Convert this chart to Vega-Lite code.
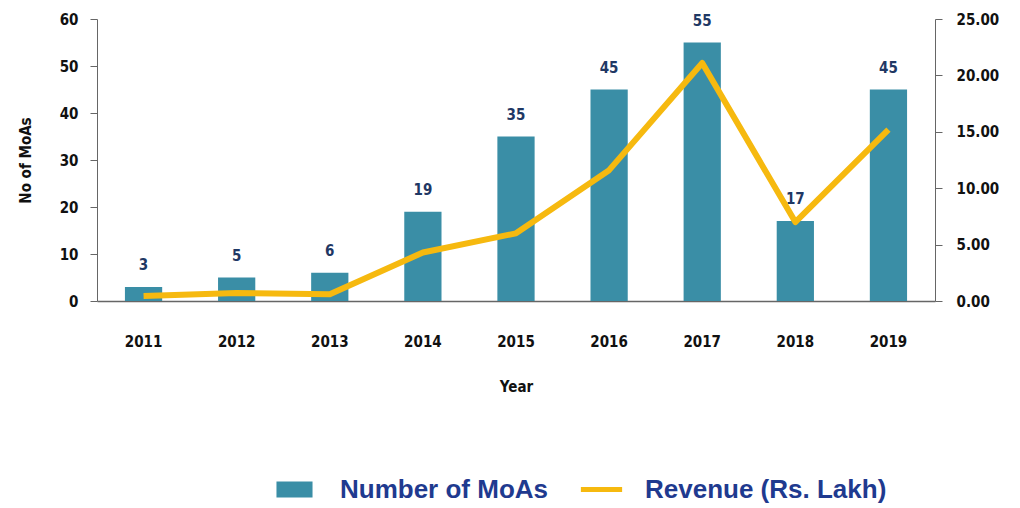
{
  "$schema": "https://vega.github.io/schema/vega-lite/v6.json",
  "autosize": {"type": "none"},
  "padding": {"left": 97, "top": 19, "right": 85, "bottom": 207},
  "width": 838,
  "height": 282,
  "background": "white",
  "config": {
    "view": {"stroke": null},
    "font": "DejaVu Sans Condensed"
  },
  "data": {
    "values": [
      {"year": "2011", "moas": 3, "revenue": 0.45},
      {"year": "2012", "moas": 5, "revenue": 0.7},
      {"year": "2013", "moas": 6, "revenue": 0.6},
      {"year": "2014", "moas": 19, "revenue": 4.3},
      {"year": "2015", "moas": 35, "revenue": 6.0},
      {"year": "2016", "moas": 45, "revenue": 11.6},
      {"year": "2017", "moas": 55, "revenue": 21.1},
      {"year": "2018", "moas": 17, "revenue": 7.0},
      {"year": "2019", "moas": 45, "revenue": 15.2}
    ]
  },
  "encoding": {
    "x": {
      "field": "year", "type": "ordinal", "title": "Year",
      "scale": {"paddingInner": 0.6, "paddingOuter": 0.3},
      "axis": {
        "labelAngle": 0, "labelFont": "DejaVu Sans Condensed", "labelFontWeight": "bold", "labelFontSize": 15,
        "labelColor": "#111", "labelPadding": 33, "ticks": false, "domainColor": "#666", "domainWidth": 1.5,
        "titleFont": "DejaVu Sans Condensed", "titleFontWeight": "bold", "titleFontSize": 15, "titleColor": "#111", "titlePadding": 30
      }
    }
  },
  "layer": [
    {
      "encoding": {
        "y": {
          "field": "moas", "type": "quantitative", "title": "No of MoAs",
          "scale": {"domain": [0, 60]},
          "axis": {
            "values": [0, 10, 20, 30, 40, 50, 60], "grid": false, "tickSize": 7, "tickColor": "#666", "domainColor": "#666",
            "labelFont": "DejaVu Sans Condensed", "labelFontWeight": "bold", "labelFontSize": 15, "labelColor": "#111", "labelPadding": 12,
            "titleFont": "DejaVu Sans Condensed", "titleFontWeight": "bold", "titleFontSize": 15, "titleColor": "#111", "titlePadding": 26
          }
        }
      },
      "layer": [
        {
          "mark": {"type": "bar", "color": "#3a8ea6"},
          "encoding": {
            "fill": {
              "datum": "Number of MoAs", "type": "nominal",
              "scale": {"range": ["#3a8ea6"]},
              "legend": {
                "orient": "none", "legendX": 179, "legendY": 452, "title": null, "labelLimit": 0,
                "symbolType": "M-1,-0.45H1V0.45H-1Z", "symbolSize": 1300, "symbolStrokeWidth": 0,
                "labelFont": "Liberation Sans", "labelFontWeight": "bold", "labelFontSize": 26, "labelColor": "#1f3a8f", "labelOffset": 27
              }
            }
          }
        },
        {
          "mark": {"type": "text", "dy": -22, "font": "DejaVu Sans Condensed", "fontWeight": "bold", "fontSize": 15, "color": "#1f3864"},
          "encoding": {
            "text": {"field": "moas", "type": "quantitative"}
          }
        }
      ]
    },
    {
      "mark": {"type": "line", "color": "#f6b90f", "strokeWidth": 6, "strokeJoin": "round"},
      "encoding": {
        "y": {
          "field": "revenue", "type": "quantitative", "title": null,
          "scale": {"domain": [0, 25]},
          "axis": {
            "orient": "right", "values": [0, 5, 10, 15, 20, 25], "format": ".2f", "grid": false, "tickSize": 7, "tickColor": "#666", "domainColor": "#666",
            "labelFont": "DejaVu Sans Condensed", "labelFontWeight": "bold", "labelFontSize": 15, "labelColor": "#111", "labelPadding": 14
          }
        },
        "stroke": {
          "datum": "Revenue (Rs. Lakh)", "type": "nominal",
          "scale": {"range": ["#f6b90f"]},
          "legend": {
            "orient": "none", "legendX": 481, "legendY": 447, "title": null, "labelLimit": 0,
            "symbolType": "stroke", "symbolSize": 1700, "symbolStrokeWidth": 5,
            "labelFont": "Liberation Sans", "labelFontWeight": "bold", "labelFontSize": 26, "labelColor": "#1f3a8f", "labelOffset": 20
          }
        }
      }
    }
  ],
  "resolve": {"scale": {"y": "independent", "fill": "independent", "stroke": "independent"}}
}
